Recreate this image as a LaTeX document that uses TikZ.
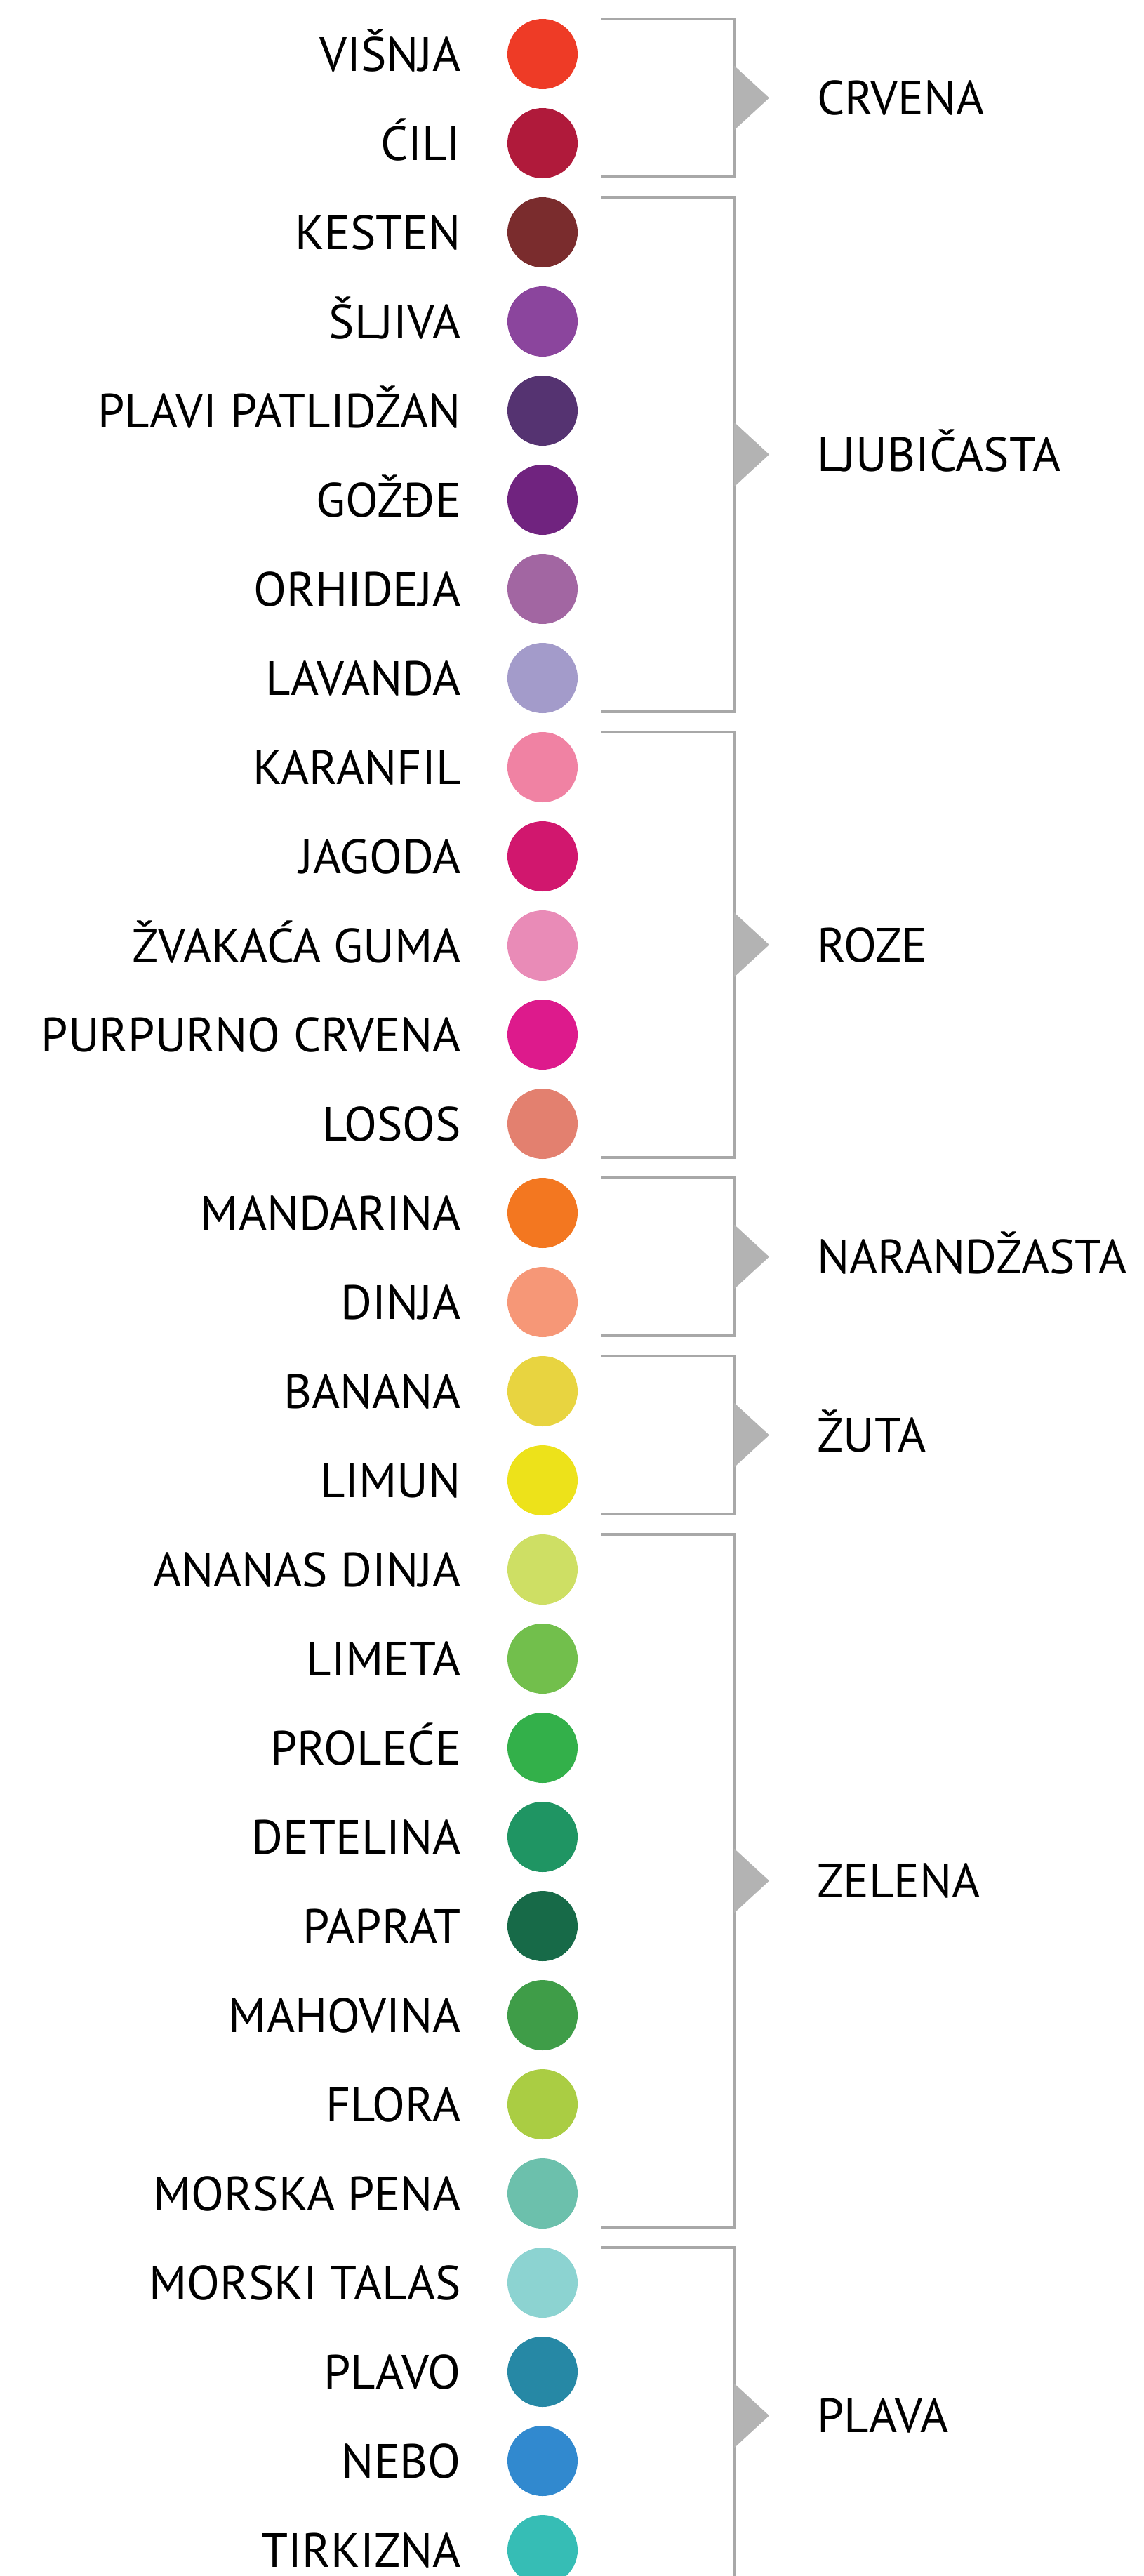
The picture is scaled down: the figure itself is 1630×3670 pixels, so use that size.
\documentclass[tikz,border=0pt]{standalone}
\usepackage{fontspec}
\setmainfont{PT Sans}
\definecolor{bracketgray}{HTML}{A8A8A8}
\definecolor{arrowgray}{HTML}{B3B3B3}
\begin{document}
\begin{tikzpicture}[x=1pt,y=-1pt,
  dot/.style={circle,inner sep=0pt,minimum size=100pt},
  itemlabel/.style={anchor=base east,inner sep=0pt,text=black,font=\fontsize{68.6}{80}\selectfont},
  grouplabel/.style={anchor=base west,inner sep=0pt,text=black,font=\fontsize{68.6}{80}\selectfont},
  bracketline/.style={draw=bracketgray,line width=3.5pt,line join=miter},
  arrowhead/.style={fill=arrowgray}]
\useasboundingbox (0,0) rectangle (1630,3670);
\clip (0,0) rectangle (1630,3670);
\foreach \i/\hex/\txt in {
  0/EE3B26/VIŠNJA,
  1/B01A3B/ĆILI,
  2/7A2C2D/KESTEN,
  3/8B459D/ŠLJIVA,
  4/553371/PLAVI PATLIDŽAN,
  5/70237F/GOŽĐE,
  6/A266A2/ORHIDEJA,
  7/A39BCA/LAVANDA,
  8/F082A3/KARANFIL,
  9/D1176E/JAGODA,
  10/E98BB7/ŽVAKAĆA GUMA,
  11/DD1A8C/PURPURNO CRVENA,
  12/E3806F/LOSOS,
  13/F37720/MANDARINA,
  14/F69777/DINJA,
  15/E8D440/BANANA,
  16/EDE21A/LIMUN,
  17/CEDF64/ANANAS DINJA,
  18/72BF4C/LIMETA,
  19/33B04A/PROLEĆE,
  20/1F9563/DETELINA,
  21/176A48/PAPRAT,
  22/3F9D48/MAHOVINA,
  23/AACD43/FLORA,
  24/6CC0AC/MORSKA PENA,
  25/8CD3D1/MORSKI TALAS,
  26/2688A5/PLAVO,
  27/3189CF/NEBO,
  28/36BDB5/TIRKIZNA}{
  \pgfmathsetmacro\yc{77+127*\i}
  \definecolor{dotcol}{HTML}{\hex}
  \node[dot,fill=dotcol] (c\i) at (773,\yc) {};
  \node[itemlabel] (l\i) at (657,\yc+24) {\txt};
}
\foreach \g/\a/\b/\txt in {
  1/0/1/CRVENA,
  2/2/7/LJUBIČASTA,
  3/8/12/ROZE,
  4/13/14/NARANDŽASTA,
  5/15/16/ŽUTA,
  6/17/24/ZELENA,
  7/25/28/PLAVA}{
  \pgfmathsetmacro\btop{77+127*\a-50}
  \pgfmathsetmacro\bbot{77+127*\b+48}
  \pgfmathsetmacro\bmid{(\btop+\bbot)/2}
  \coordinate (tl\g) at (856,\btop);
  \coordinate (tr\g) at (1046,\btop);
  \coordinate (br\g) at (1046,\bbot);
  \coordinate (bl\g) at (856,\bbot);
  \coordinate (au\g) at (1046,\bmid-46);
  \coordinate (ad\g) at (1046,\bmid+46);
  \coordinate (at\g) at (1096,\bmid);
  \draw[bracketline] (tl\g) -- (tr\g) -- (br\g) -- (bl\g);
  \fill[arrowhead] (au\g) -- (at\g) -- (ad\g) -- cycle;
  \node[grouplabel] (g\g) at (1164,\bmid+24) {\txt};
}
\end{tikzpicture}
\end{document}
